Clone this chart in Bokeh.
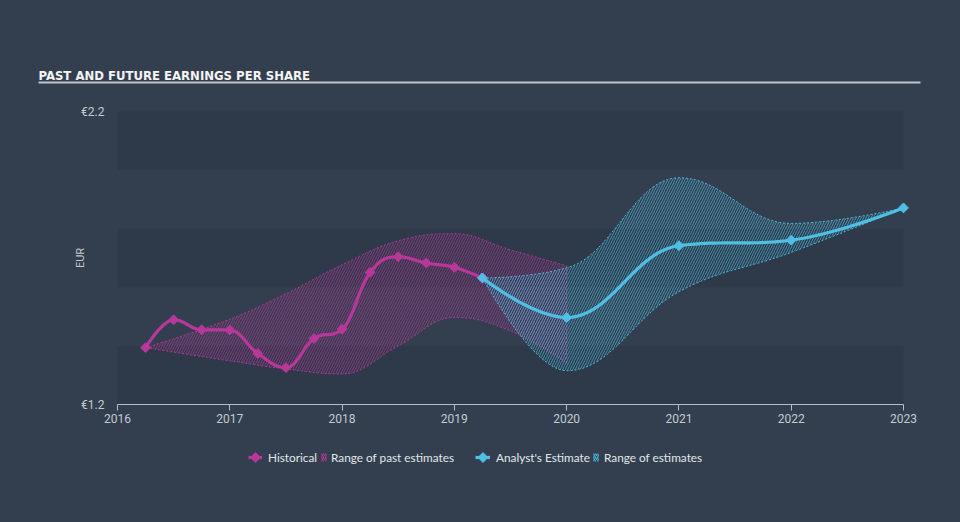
import numpy as np
from math import pi
from bokeh.plotting import figure
from bokeh.layouts import column
from bokeh.models import Range1d, FixedTicker, Legend, LegendItem
from bokeh.core.properties import value
from bokeh.embed import file_html
from bokeh.resources import INLINE

# ---------------- data ----------------
hist_dates = [2016.25, 2016.5, 2016.75, 2017.0, 2017.25, 2017.5, 2017.75,
              2018.0, 2018.25, 2018.5, 2018.75, 2019.0, 2019.25]
hist_eps = [1.394, 1.489, 1.455, 1.454, 1.374, 1.326, 1.425,
            1.457, 1.651, 1.704, 1.683, 1.668, 1.632]

past_dates = [2016.25, 2017.0, 2017.5, 2018.0, 2018.5, 2019.0, 2019.5, 2020.0]
past_low = [1.394, 1.349, 1.321, 1.304, 1.400, 1.497, 1.451, 1.342]
past_high = [1.394, 1.491, 1.578, 1.677, 1.759, 1.783, 1.728, 1.673]

est_dates = [2019.25, 2020.0, 2021.0, 2022.0, 2023.0]
est_eps = [1.632, 1.497, 1.742, 1.761, 1.871]
est_low = [1.632, 1.315, 1.585, 1.719, 1.871]
est_high = [1.632, 1.667, 1.974, 1.818, 1.871]

year_ticks = [2016, 2017, 2018, 2019, 2020, 2021, 2022, 2023]
y_ticks = [1.2, 2.2]
y_tick_labels = {1.2: "€1.2", 2.2: "€2.2"}
band_edges = [1.2, 1.4, 1.6, 1.8, 2.0, 2.2]

title_text = "PAST AND FUTURE EARNINGS PER SHARE"
legend_labels = ["Historical", "Range of past estimates",
                 "Analyst's Estimate", "Range of estimates"]

MAGENTA = "#b8389a"
CYAN = "#4fbfe4"
BG = "#333f4f"
BAND = "#2e3949"
TXT = "#c3c9d0"
NAN = float("nan")
MARK = dict(marker="square", angle=pi / 4, size=7)


def spline(xs, ys, n=24):
    """Highcharts-style spline rendering of a series (visual smoothing only)."""
    m = len(xs)
    s = 1.5
    d = s + 1
    lc = [(xs[i], ys[i]) for i in range(m)]
    rc = [(xs[i], ys[i]) for i in range(m)]
    for i in range(1, m - 1):
        x, y = xs[i], ys[i]
        px, py = xs[i - 1], ys[i - 1]
        nx, ny = xs[i + 1], ys[i + 1]
        lcx, lcy = (s * x + px) / d, (s * y + py) / d
        rcx, rcy = (s * x + nx) / d, (s * y + ny) / d
        corr = ((rcy - lcy) * (rcx - x)) / (rcx - lcx) + y - rcy
        lcy += corr
        rcy += corr
        if lcy > py and lcy > y:
            lcy = max(py, y); rcy = 2 * y - lcy
        elif lcy < py and lcy < y:
            lcy = min(py, y); rcy = 2 * y - lcy
        if rcy > ny and rcy > y:
            rcy = max(ny, y); lcy = 2 * y - rcy
        elif rcy < ny and rcy < y:
            rcy = min(ny, y); lcy = 2 * y - rcy
        lc[i] = (lcx, lcy)
        rc[i] = (rcx, rcy)
    ox, oy = [xs[0]], [ys[0]]
    t = np.linspace(0, 1, n)[1:]
    for i in range(m - 1):
        p0 = np.array([xs[i], ys[i]])
        c1 = np.array(rc[i])
        c2 = np.array(lc[i + 1])
        p3 = np.array([xs[i + 1], ys[i + 1]])
        for tt in t:
            q = ((1 - tt) ** 3) * p0 + 3 * ((1 - tt) ** 2) * tt * c1 \
                + 3 * (1 - tt) * tt ** 2 * c2 + tt ** 3 * p3
            ox.append(q[0]); oy.append(q[1])
    return ox, oy


def band_patch(xs, lo, hi):
    ux, uy = spline(xs, hi)
    lx, ly = spline(xs, lo)
    return ux + lx[::-1], uy + ly[::-1]


def bare(fig):
    fig.background_fill_color = BG
    fig.border_fill_color = None
    fig.outline_line_color = None
    fig.xgrid.visible = False
    fig.ygrid.visible = False
    if "frame_align" in fig.properties():
        fig.frame_align = False
    fig.styles = {"background-color": BG}


HATCH = dict(hatch_pattern="/", hatch_scale=5, hatch_weight=1, hatch_alpha=0.65)

# ---------------- title strip (page y 0..95) ----------------
tf = figure(width=960, height=95, output_backend="svg", toolbar_location=None,
            x_range=Range1d(0, 960), y_range=Range1d(95, 0),
            x_axis_location=None, y_axis_location=None,
            min_border=0, min_border_left=0, min_border_right=0,
            min_border_top=0, min_border_bottom=0)
bare(tf)
tf.text(x=[38], y=[75], text=[title_text], text_font=value("DejaVu Sans Condensed"),
        text_font_style="bold", text_font_size="13px", text_color="#f4f4f4",
        text_baseline="alphabetic", text_align="left")
tf.line(x=[38, 920], y=[82, 82], line_color="#c2c6cb", line_width=2)

# ---------------- main chart (page y 95..432) ----------------
p = figure(width=960, height=337, output_backend="svg", toolbar_location=None,
           x_range=Range1d(2016, 2023.107), y_range=Range1d(1.2, 2.2),
           min_border_left=117, min_border_right=45, min_border_top=16,
           min_border_bottom=28)
bare(p)

p.quad(left=year_ticks[0], right=year_ticks[-1],
       bottom=band_edges[0::2][:3], top=band_edges[1::2],
       fill_color=BAND, line_color=None)

px_, py_ = band_patch(past_dates, past_low, past_high)
p.patch(px_, py_, fill_alpha=0, hatch_color=MAGENTA, **HATCH,
        line_color=MAGENTA, line_width=1, line_dash="2 2", line_alpha=0.9)
fx_, fy_ = band_patch(est_dates, est_low, est_high)
p.patch(fx_, fy_, fill_alpha=0, hatch_color=CYAN, **HATCH,
        line_color=CYAN, line_width=1, line_dash="2 2", line_alpha=0.9)

hx, hy = spline(hist_dates, hist_eps)
p.line(hx, hy, line_color=MAGENTA, line_width=3.2)
p.scatter(hist_dates, hist_eps, fill_color=MAGENTA, line_color=MAGENTA, **MARK)
ex, ey = spline(est_dates, est_eps)
p.line(ex, ey, line_color=CYAN, line_width=3.2)
p.scatter(est_dates, est_eps, fill_color=CYAN, line_color=CYAN, **MARK)

p.xaxis.ticker = FixedTicker(ticks=year_ticks)
p.xaxis.bounds = (year_ticks[0], year_ticks[-1])
p.xaxis.axis_line_color = "#b4bec9"
p.xaxis.major_tick_line_color = "#b4bec9"
p.xaxis.major_tick_out = 6
p.xaxis.major_tick_in = 0
p.xaxis.minor_tick_line_color = None
p.xaxis.major_label_text_color = TXT
p.xaxis.major_label_text_font = "Roboto"
p.xaxis.major_label_text_font_size = "12px"
p.xaxis.major_label_standoff = 3

p.yaxis.ticker = FixedTicker(ticks=y_ticks)
p.yaxis.major_label_overrides = y_tick_labels
p.yaxis.axis_line_color = None
p.yaxis.major_tick_line_color = None
p.yaxis.minor_tick_line_color = None
p.yaxis.major_tick_out = 0
p.yaxis.major_tick_in = 0
p.yaxis.major_label_text_color = TXT
p.yaxis.major_label_text_font = "Roboto"
p.yaxis.major_label_text_font_size = "12px"
p.yaxis.major_label_standoff = 13
p.yaxis.axis_label = "EUR"
p.yaxis.axis_label_text_font = "Roboto"
p.yaxis.axis_label_text_font_style = "normal"
p.yaxis.axis_label_text_font_size = "11px"
p.yaxis.axis_label_text_color = TXT
p.yaxis.axis_label_standoff = -9

# ---------------- legend strip (page y 432..522) ----------------
LEG_H = 90
LEG_CY = 25          # legend row centre, from the strip top
lf = figure(width=960, height=LEG_H, output_backend="svg", toolbar_location=None,
            x_range=Range1d(0, 960), y_range=Range1d(LEG_H, 0),
            x_axis_location=None, y_axis_location=None,
            min_border=0, min_border_left=0, min_border_right=0,
            min_border_top=0, min_border_bottom=0)
bare(lf)
# legend proxies (no visible marks: NaN coordinates)
h_l = lf.line(x=[NAN], y=[NAN], line_color=MAGENTA, line_width=3.2)
pr = lf.patch(x=[NAN], y=[NAN], fill_alpha=0, line_color=None, hatch_color=MAGENTA,
              hatch_pattern="/", hatch_scale=4, hatch_weight=1.3, hatch_alpha=0.9)
e_l = lf.line(x=[NAN], y=[NAN], line_color=CYAN, line_width=3.2)
fr = lf.patch(x=[NAN], y=[NAN], fill_alpha=0, line_color=None, hatch_color=CYAN,
              hatch_pattern="/", hatch_scale=4, hatch_weight=1.3, hatch_alpha=0.9)


def add_legend(label, renderer, vx, gw, standoff, marker_color=None):
    lg = Legend(items=[LegendItem(label=label, renderers=[renderer])],
                location=(vx, LEG_H - LEG_CY - 10), orientation="horizontal",
                glyph_width=gw, glyph_height=10, label_standoff=standoff,
                padding=0, margin=0, spacing=0,
                background_fill_alpha=0, border_line_alpha=0,
                label_text_font="Lato", label_text_font_size="11.8px",
                label_text_color="#e2e6ea", label_height=20)
    lf.add_layout(lg, "center")
    if marker_color is not None:
        lf.scatter(x=[vx + gw / 2], y=[LEG_CY], fill_color=marker_color,
                   line_color=marker_color, **MARK)


add_legend(legend_labels[0], h_l, 248, 14, 6, MAGENTA)
add_legend(legend_labels[1], pr, 320, 7, 4)
add_legend(legend_labels[2], e_l, 475, 15, 6, CYAN)
add_legend(legend_labels[3], fr, 592, 7, 5)

layout = column(tf, p, lf, spacing=0, styles={"background-color": BG})
open("out.html", "w").write(file_html(layout, INLINE))
